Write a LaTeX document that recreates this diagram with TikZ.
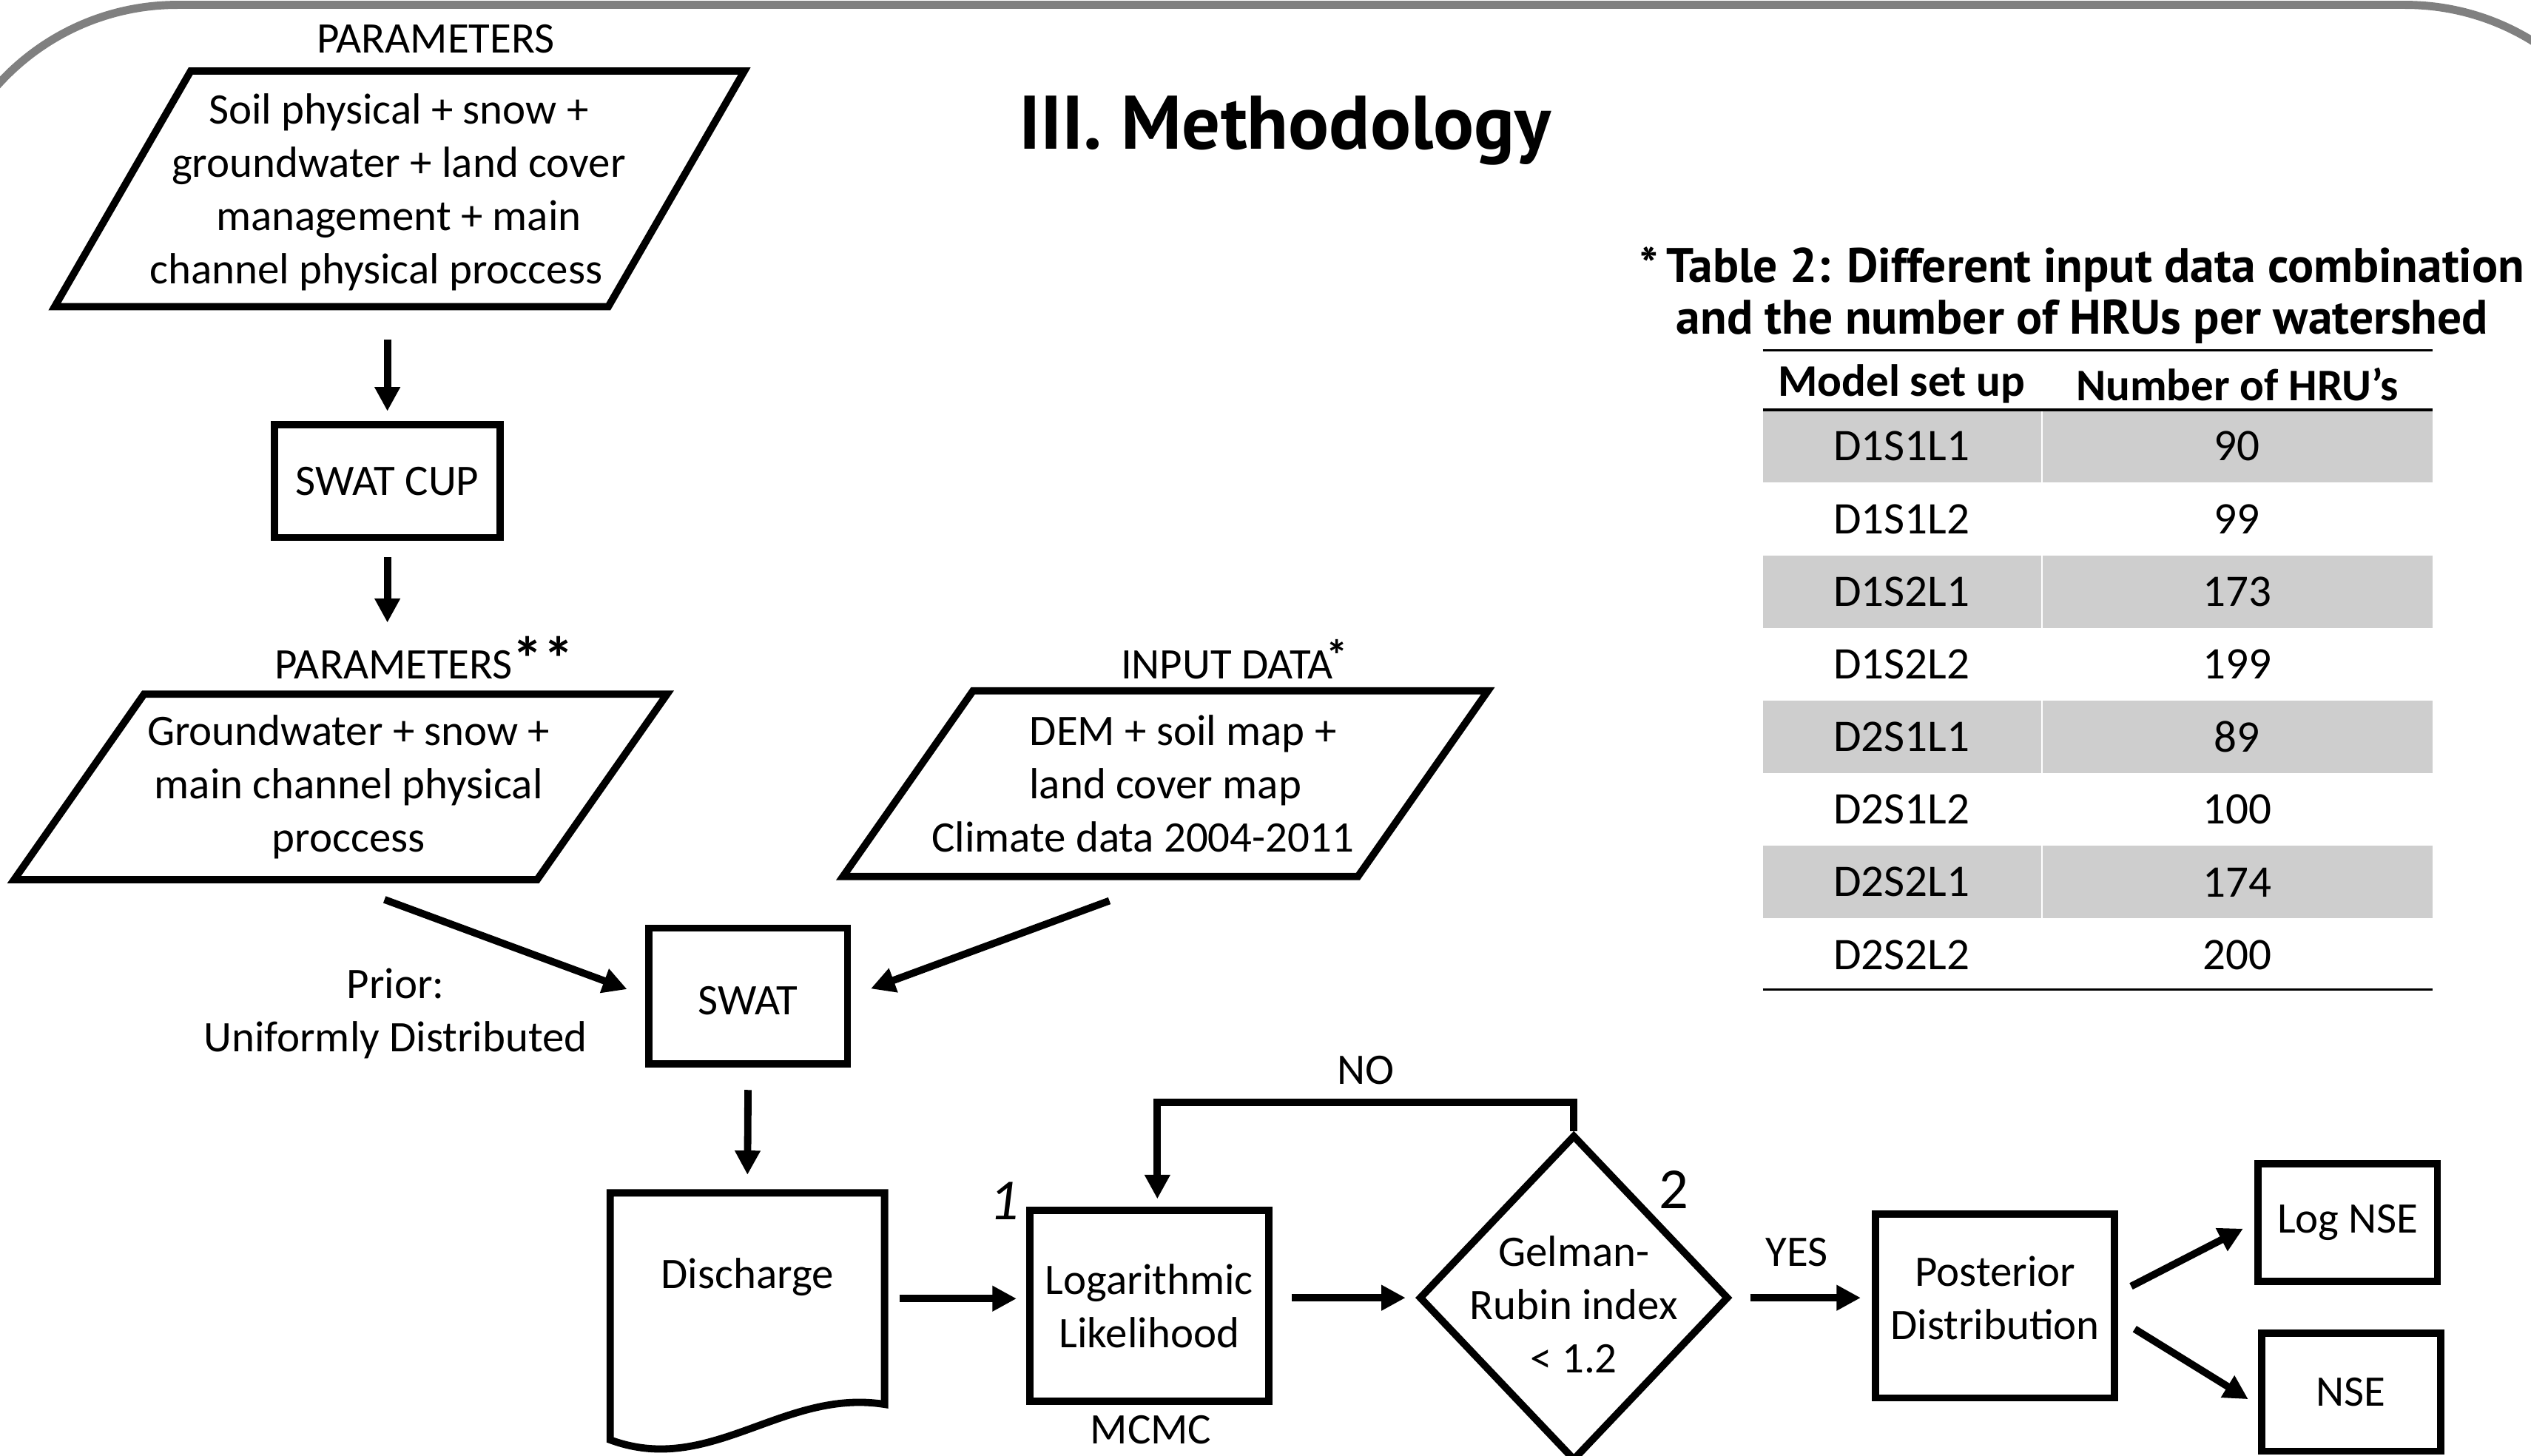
\documentclass[tikz,border=0pt]{standalone}
\usepackage{fontspec}
\setmainfont{Carlito}
\newfontfamily\headfont{PT Sans}
\usetikzlibrary{arrows.meta,shapes.geometric}

\definecolor{framegray}{RGB}{128,128,128}
\definecolor{rowgray}{RGB}{206,206,206}

% empty box of given width and height, to size a shape
\newcommand{\shapebox}[2]{\rule{#1}{0pt}\rule{0pt}{#2}}

\tikzset{
  outline/.style={draw, line width=4.5pt, line join=miter},
  procbox/.style={outline, rectangle, inner sep=0pt, align=center},
  datashape/.style={outline, trapezium,
    trapezium left angle=55, trapezium right angle=125, inner sep=0pt},
  decision/.style={outline, diamond, inner sep=0pt},
  arr/.style={-{Triangle[length=15pt,width=15pt]}, line width=4.5pt},
  titletxt/.style={font=\headfont\bfseries\fontsize{47}{52}\selectfont},
  captxt/.style={align=center, font=\headfont\bfseries\fontsize{30}{32}\selectfont},
  hdr/.style={font=\bfseries\fontsize{28}{34}\selectfont},
  cell/.style={font=\fontsize{28}{34}\selectfont},
  tag/.style={font=\fontsize{36}{36}\selectfont}
}

\begin{document}
\begin{tikzpicture}[x=1pt, y=-1pt, font=\fontsize{27}{33}\selectfont]
  \useasboundingbox (0,0) rectangle (1568,902);
  % poster frame
  \begin{scope}
    \clip (0,0) rectangle (1568,902);
    \draw[framegray, line width=5pt, rounded corners=150pt] (-40,3) rectangle (1640,1200);
  \end{scope}
  \node[titletxt] (title) at (796,81) {III. Methodology};

  % calibration inputs
  \node (lab1) at (270,24) {PARAMETERS};
  \node[datashape, trapezium left angle=60, trapezium right angle=120] (par1) at (247.5,117)
    {\shapebox{258.7pt}{146pt}};
  \node[align=center] (par1txt) at (247,119)
    {Soil physical + snow +\\groundwater + land cover\\management + main\hspace*{28pt}\\channel physical proccess\hspace*{28pt}};
  \node[procbox, minimum width=140pt, minimum height=70pt] (cup) at (240,298) {SWAT CUP};
  \node (lab2) at (244,412) {PARAMETERS\rlap{\smash{\raisebox{-1pt}{\bfseries\fontsize{38}{38}\selectfont**}}}};
  \node[datashape] (par2) at (211,487.5) {\shapebox{243.5pt}{115pt}};
  \node[align=center] (par2txt) at (216,487.5)
    {Groundwater + snow +\\main channel physical\\proccess};
  \node (lab3) at (760,412) {INPUT DATA\rlap{\smash{\kern-4pt\raisebox{5pt}{\bfseries *}}}};
  \node[datashape] (par3) at (722,485.5) {\shapebox{238.5pt}{115pt}};
  \node[align=center] (par3txt) at (722,485.5)
    {\hspace*{22pt}DEM + soil map +\\land cover map\hspace*{28pt}\\Climate data 2004-2011\hspace*{28pt}};
  \node[procbox, minimum width=123pt, minimum height=84pt] (swat) at (463.5,617) {};
  \node (swattxt) at ([yshift=-3pt]swat.center) {SWAT};
  \node[align=center] (prior) at (245,628) {Prior:\\Uniformly Distributed};

  % discharge document
  \node[minimum width=170pt, minimum height=131pt, inner sep=0pt] (dis) at (463,804.5) {};
  \draw[outline] (378,739) -- (548,739) -- (548,870)
    .. controls (485,860) and (440,915) .. (378,892) -- cycle;
  \node (distxt) at (463,791) {Discharge};

  % MCMC chain
  \node[procbox, minimum width=148pt, minimum height=118pt] (loglik) at (712,809) {Logarithmic\\Likelihood};
  \node (mcmc) at (713,886) {MCMC};
  \node[tag] (one) at (622,744) {\itshape 1};
  \node[decision, minimum width=192pt, minimum height=202pt] (gr) at (975,804) {};
  \node[align=center] (grtxt) at ([yshift=-4pt]gr.center) {Gelman-\\Rubin index\\< 1.2};
  \node[tag] (two) at (1037,737) {2};
  \node (no) at (846,663) {NO};
  \node (yes) at (1113,776) {YES};
  \node[procbox, minimum width=148pt, minimum height=114pt] (post) at (1236,809) {};
  \node[align=center] (posttxt) at ([yshift=5pt]post.center) {Posterior\\Distribution};
  \node[procbox, minimum width=111pt, minimum height=73pt] (lognse) at (1454.5,757.5) {Log NSE};
  \node[procbox, minimum width=111pt, minimum height=73pt] (nse) at (1456.5,862.5) {NSE};

  % connectors
  \draw[arr, shorten <=18pt, shorten >=6pt] (par1.south -| cup.north) -- (cup.north);
  \draw[arr, shorten <=10pt, shorten >=42pt] (cup.south) -- (cup.south |- par2.north);
  \draw[arr, shorten <=29pt, shorten >=12pt] (par2.south) -- (swat.west);
  \draw[arr, shorten <=37pt, shorten >=13pt] (par3.south) -- (swat.east);
  \draw[arr, shorten <=14pt, shorten >=11pt] (swat.south) -- (dis.north);
  \draw[arr, shorten <=9pt, shorten >=6pt] (dis.east) -- (dis.east -| loglik.west);
  \draw[arr, shorten <=12pt, shorten >=6pt] (loglik.east |- gr.west) -- (gr.west);
  \draw[arr, shorten <=11pt, shorten >=7pt] (gr.east) -- (gr.east -| post.west);
  \draw[arr, shorten >=5pt] (gr.north) -- ++(0,-18) -| ([xshift=5pt]loglik.north);
  \draw[arr, shorten <=9pt, shorten >=8pt] ([yshift=8pt]post.east) -- (lognse.west);
  \draw[arr, shorten <=12pt, shorten >=7pt] ([yshift=-8pt]post.east) -- ([yshift=-8pt]nse.west);

  % table 2
  \node[captxt] (cap) at (1290,183) {*\,Table 2: Different input data combination\\and the number of HRUs per watershed};
  \draw[line width=1.5pt] (1092,217) -- (1507,217);
  \node[hdr] (hsetup) at (1178,238) {Model set up};
  \node[hdr] (hhru) at (1386,238) {Number of HRU’s};
  \foreach \setup/\hru [count=\i] in {D1S1L1/90, D1S1L2/99, D1S2L1/173, D1S2L2/199,
                                      D2S1L1/89, D2S1L2/100, D2S2L1/174, D2S2L2/200} {
    \pgfmathsetmacro{\ytop}{254+45*(\i-1)}
    \ifodd\i \fill[rowgray] (1092,\ytop) rectangle (1507,\ytop+45); \fi
    \node[cell] (s\i) at (1178,\ytop+22.5) {\setup};
    \node[cell] (h\i) at (1386,\ytop+22.5) {\hru};
  }
  \draw[white, line width=1pt] (1265,254) -- (1265,614);
  \draw[line width=2pt] (1092,254) -- (1507,254);
  \draw[line width=1.5pt] (1092,613) -- (1507,613);
\end{tikzpicture}
\end{document}
